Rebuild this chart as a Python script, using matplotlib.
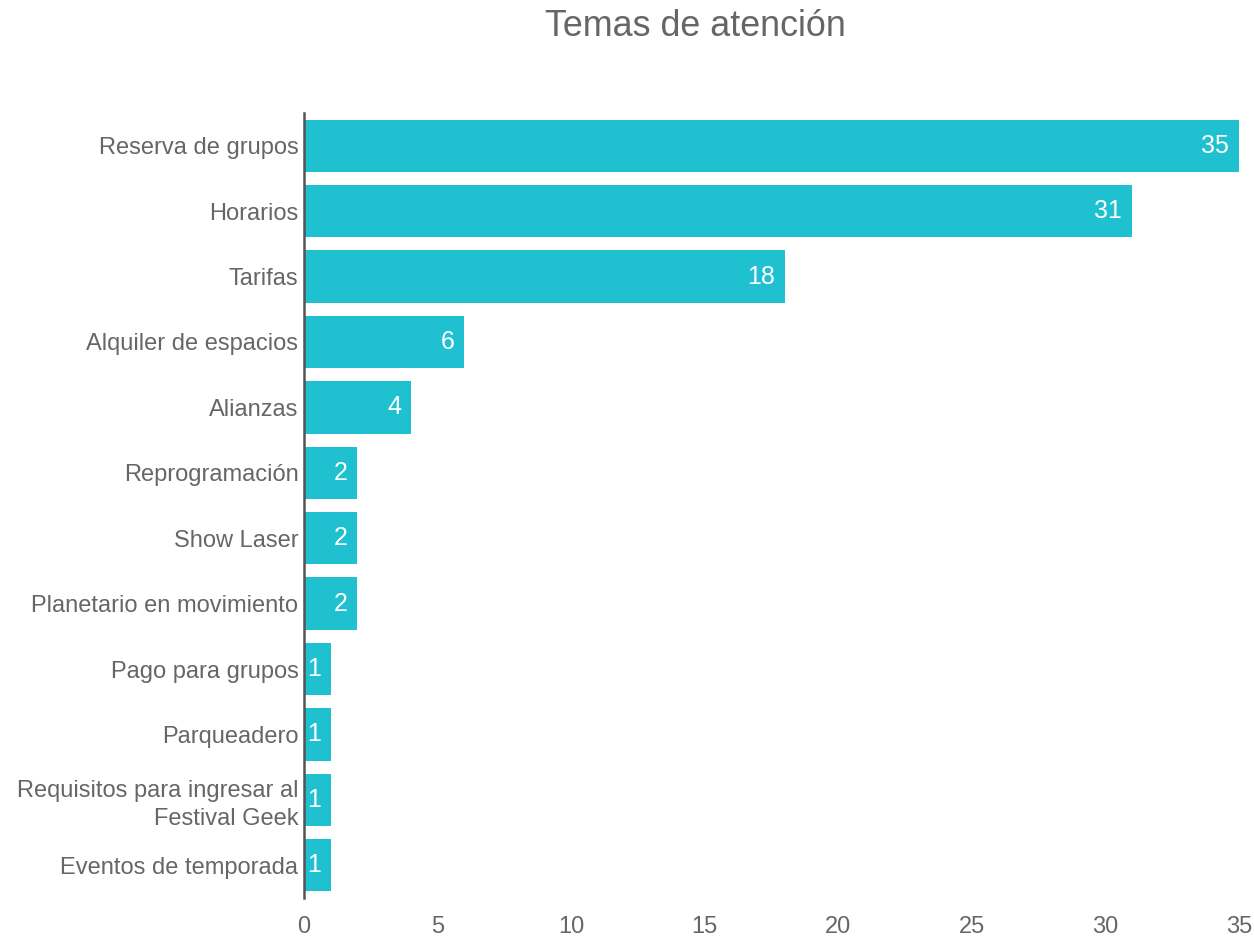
import matplotlib
matplotlib.use("Agg")
import matplotlib.pyplot as plt

categories = ["Reserva de grupos", "Horarios", "Tarifas", "Alquiler de espacios", "Alianzas",
              "Reprogramación", "Show Laser", "Planetario en movimiento", "Pago para grupos",
              "Parqueadero", "Requisitos para ingresar al\nFestival Geek", "Eventos de temporada"]
values = [35, 31, 18, 6, 4, 2, 2, 2, 1, 1, 1, 1]
xticks = [0, 5, 10, 15, 20, 25, 30, 35]
title = "Temas de atención"

plt.rcParams['font.family'] = ['Liberation Sans', 'DejaVu Sans']
bar_color = "#1FC1D1"
text_color = "#666666"

fig = plt.figure(figsize=(12.54, 9.36), dpi=100)
ax = fig.add_axes([0.2424, 0.0406, 0.988 - 0.2424, 0.8793 - 0.0406])

ypos = list(range(len(categories)))
ax.barh(ypos, values, height=0.8, color=bar_color)
for y, v in zip(ypos, values):
    ax.text(v - 0.37, y, str(v), color="white", fontsize=18, ha="right", va="center")

ax.set_ylim(len(categories) - 0.5, -0.5)
ax.set_xlim(0, 35)
ax.set_yticks(ypos)
ax.set_yticklabels(categories, fontsize=17, color=text_color, ha="right", linespacing=1.35)
ax.set_xticks(xticks)
ax.set_xticklabels([str(t) for t in xticks], fontsize=17, color=text_color)
ax.tick_params(axis="both", length=0)
ax.tick_params(axis="y", pad=4)
ax.tick_params(axis="x", pad=13)
for s in ["top", "right", "bottom"]:
    ax.spines[s].set_visible(False)
ax.spines["left"].set_color("#555555")
ax.spines["left"].set_linewidth(1.8)

fig.text(0.5545, 0.972, title, fontsize=25.8, color=text_color, ha="center", va="center")

fig.savefig("out.png", dpi=100)
